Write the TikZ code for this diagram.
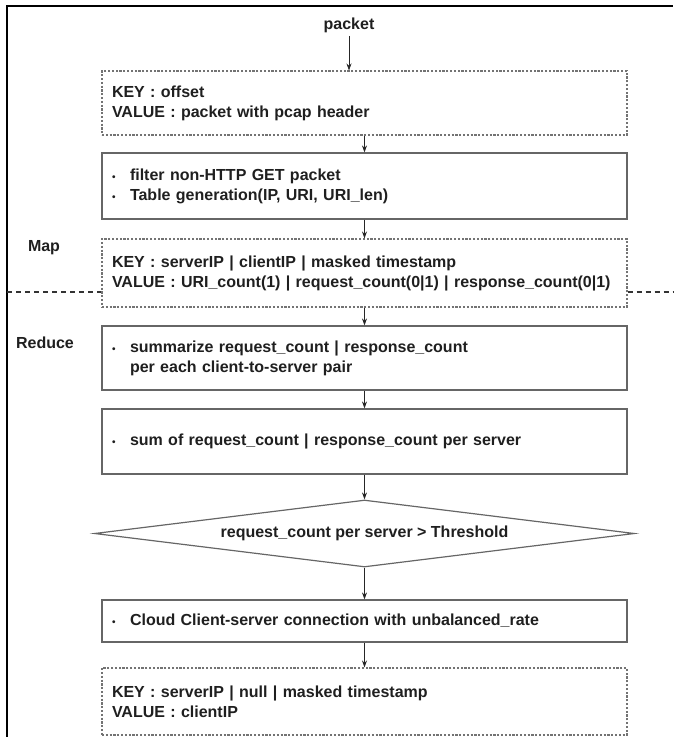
\documentclass[tikz,border=0pt]{standalone}
\usepackage{fontspec}
\setmainfont{Liberation Sans}
\usetikzlibrary{shapes.geometric,arrows.meta}

\newcommand{\bul}{\makebox[18pt][l]{\fontsize{10}{10}\selectfont\textbullet}}

\begin{document}
\begin{tikzpicture}[x=1pt,y=-1pt,
  every node/.style={font=\fontsize{16}{20}\selectfont\bfseries, text=black!88},
  boxbase/.style={minimum width=525pt, text width=505pt, inner xsep=10pt,
                  inner ysep=0pt, align=left},
  dashbox/.style={boxbase, draw=black!55, line width=1.1pt,
                  dash pattern=on 2.2pt off 1.6pt},
  solidbox/.style={boxbase, draw=black!60, line width=1.2pt},
  decision/.style={diamond, draw=black!60, line width=1.2pt, aspect=8,
                   minimum width=540pt, minimum height=67pt, inner sep=0pt},
  flow/.style={draw=black!85, line width=0.8pt, -{Stealth[length=7pt,width=5pt]}},
  phase/.style={font=\fontsize{16}{18}\selectfont\bfseries},
  separator/.style={draw=black!80, line width=1.5pt, dash pattern=on 5pt off 4pt},
  frame/.style={draw=black, line width=2pt}]

\useasboundingbox (0,0) rectangle (673,737);

% frame on the left and top edges
\coordinate (fb) at (6.5,737);
\coordinate (fc) at (6.5,5.5);
\coordinate (fr) at (673,5.5);
\draw[frame] (fb) -- (fc) -- (fr);

% input
\node (packet) at (349,25) {packet};

% map stage
\node[dashbox, minimum height=64pt] (b1) at (364.5,103)
  {KEY : offset\\VALUE : packet with pcap header};
\node[solidbox, minimum height=66pt] (b2) at (364.5,186)
  {\bul filter non-HTTP GET packet\\\bul Table generation(IP, URI, URI\_len)};
\node[dashbox, minimum height=68pt] (b3) at (364.5,273)
  {KEY : serverIP | clientIP | masked timestamp\\
   VALUE : URI\_count(1) | request\_count(0|1) | response\_count(0|1)};

% reduce stage
\node[solidbox, minimum height=64pt] (b4) at (364.5,358)
  {\bul summarize request\_count | response\_count\\
   \hspace*{18pt}per each client-to-server pair};
\node[solidbox, minimum height=65pt] (b5) at (364.5,441.5)
  {\bul sum of request\_count | response\_count per server};
\node[decision] (d1) at (364.5,533.5) {request\_count per server > Threshold};
\node[solidbox, minimum height=42pt] (b6) at (364.5,621)
  {\bul Cloud Client-server connection with unbalanced\_rate};
\node[dashbox, minimum height=67pt] (b7) at (364.5,701.5)
  {KEY : serverIP | null | masked timestamp\\VALUE : clientIP};

% phase labels
\node[phase] (map) at (44,248) {Map};
\node[phase] (reduce) at (45,343) {Reduce};

% map / reduce boundary
\coordinate (sepL) at (7,292);
\coordinate (sepR) at (673,292);
\draw[separator] (sepL) -- (sepL -| b3.west);
\draw[separator] (b3.east |- sepR) -- (sepR);

% connectors
\draw[flow] (packet) -- (packet |- b1.north);
\draw[flow] (b1) -- (b2);
\draw[flow] (b2) -- (b3);
\draw[flow] (b3) -- (b4);
\draw[flow] (b4) -- (b5);
\draw[flow] (b5) -- (d1);
\draw[flow] (d1) -- (b6);
\draw[flow] (b6) -- (b7);

\end{tikzpicture}
\end{document}
